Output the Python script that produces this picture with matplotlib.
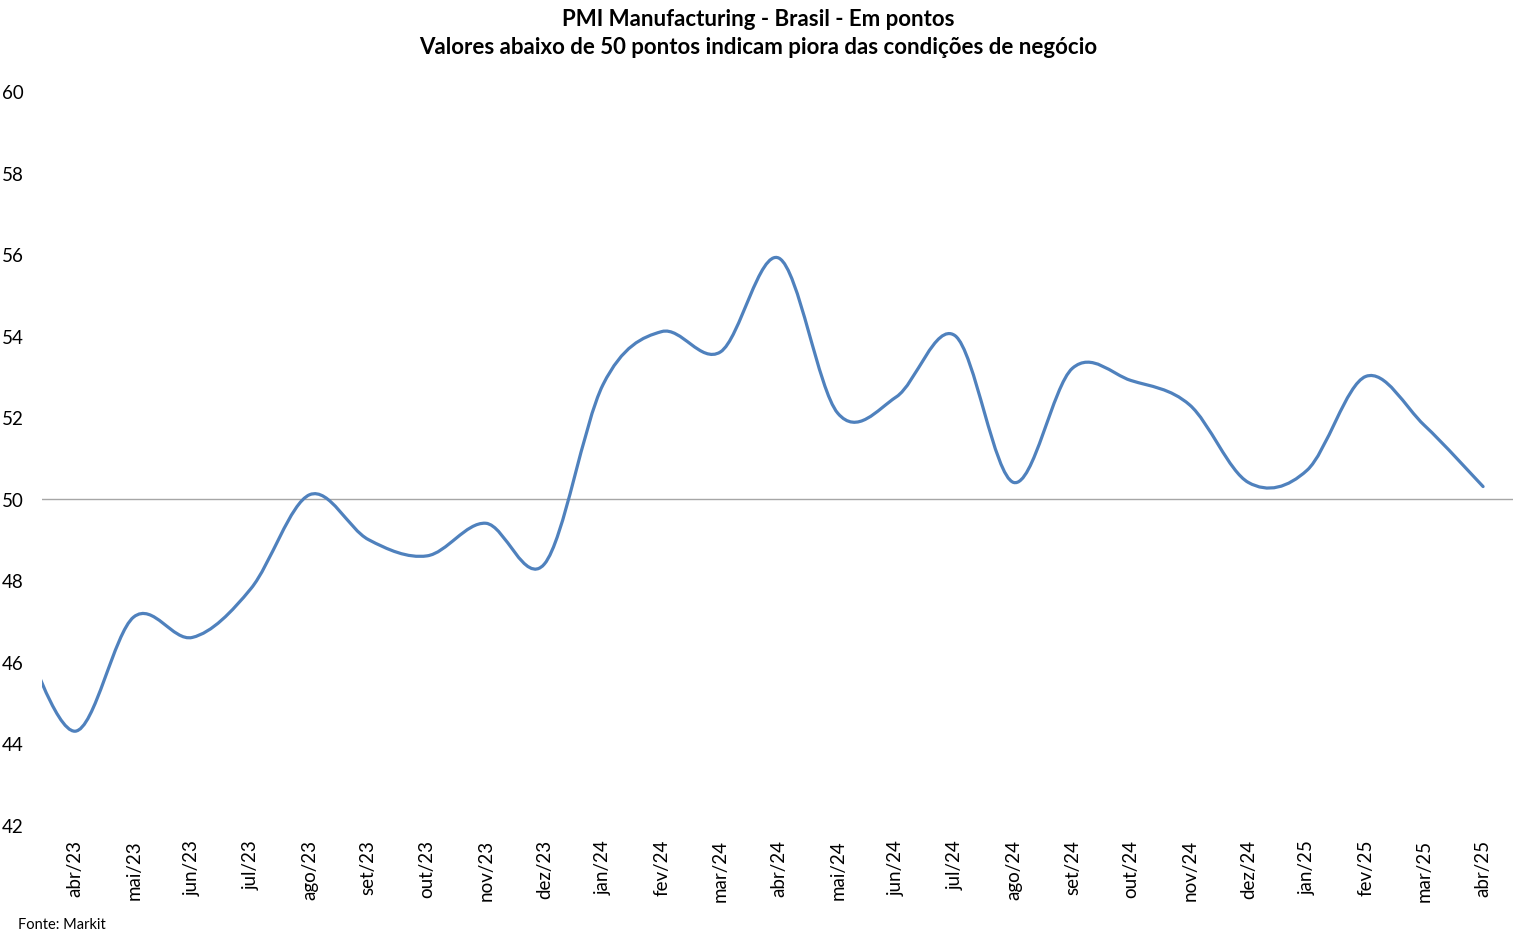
import matplotlib
matplotlib.use("Agg")

import matplotlib.pyplot as plt  # noqa: E402
from matplotlib.path import Path  # noqa: E402
from matplotlib.patches import PathPatch  # noqa: E402

# ── Data ──────────────────────────────────────────────────────────────────────

months = [
    "mar/23", "abr/23", "mai/23", "jun/23", "jul/23", "ago/23", "set/23",
    "out/23", "nov/23", "dez/23", "jan/24", "fev/24", "mar/24", "abr/24",
    "mai/24", "jun/24", "jul/24", "ago/24", "set/24", "out/24", "nov/24",
    "dez/24", "jan/25", "fev/25", "mar/25", "abr/25",
]
pmi = [
    47.0, 44.3, 47.1, 46.6, 47.8, 50.1, 49.0,
    48.6, 49.4, 48.4, 52.8, 54.1, 53.6, 55.9,
    52.1, 52.5, 54.0, 50.4, 53.2, 52.9, 52.3,
    50.4, 50.7, 53.0, 51.8, 50.3,
]
shown_from = 1  # first month with a label on the axis (abr/23)

plt.rcParams["font.family"] = ["Lato", "DejaVu Sans"]


# ── Excel-style smoothed line (Catmull-Rom as cubic Bezier) ──────────────────

def _smooth_path(xs, ys) -> Path:
    pts = list(zip(xs, ys))
    n = len(pts)
    verts = [pts[0]]
    codes = [Path.MOVETO]
    for i in range(n - 1):
        p0 = pts[i - 1] if i > 0 else pts[i]
        p1 = pts[i]
        p2 = pts[i + 1]
        p3 = pts[i + 2] if i + 2 < n else pts[i + 1]
        c1 = (p1[0] + (p2[0] - p0[0]) / 6, p1[1] + (p2[1] - p0[1]) / 6)
        c2 = (p2[0] - (p3[0] - p1[0]) / 6, p2[1] - (p3[1] - p1[1]) / 6)
        verts += [c1, c2, p2]
        codes += [Path.CURVE4] * 3
    return Path(verts, codes)


fig = plt.figure(figsize=(15.17, 9.45), dpi=100)
ax = fig.add_axes([42 / 1517, 1 - 826 / 945, 1471 / 1517, 734 / 945])

x = list(range(len(months)))
ax.axhline(50, color="#A6A6A6", linewidth=1.0, zorder=1)
ax.add_patch(PathPatch(_smooth_path(x, pmi), facecolor="none",
                       edgecolor="#4F81BD", linewidth=2.3,
                       capstyle="round", zorder=2))

ax.set_xlim(shown_from - 0.5625, len(months) - 1 + 0.51)
ax.set_ylim(42, 60)
ax.set_yticks(range(42, 61, 2))
ax.set_xticks(x[shown_from:])
ax.set_xticklabels(months[shown_from:], rotation=90)
ax.tick_params(axis="both", length=0, labelsize=13.5)
ax.tick_params(axis="y", pad=13)
ax.tick_params(axis="x", pad=10)
for s in ax.spines.values():
    s.set_visible(False)

fig.text(0.5, 1 - 19 / 945, "PMI Manufacturing - Brasil - Em pontos",
         ha="center", va="center", fontsize=16, fontweight="bold")
fig.text(0.5, 1 - 48 / 945,
         "Valores abaixo de 50 pontos indicam piora das condições de negócio",
         ha="center", va="center", fontsize=16, fontweight="bold")
fig.text(18 / 1517, 1 - 925 / 945, "Fonte: Markit", ha="left", va="center",
         fontsize=10.5)

fig.savefig("out.png", dpi=100)
plt.close(fig)
